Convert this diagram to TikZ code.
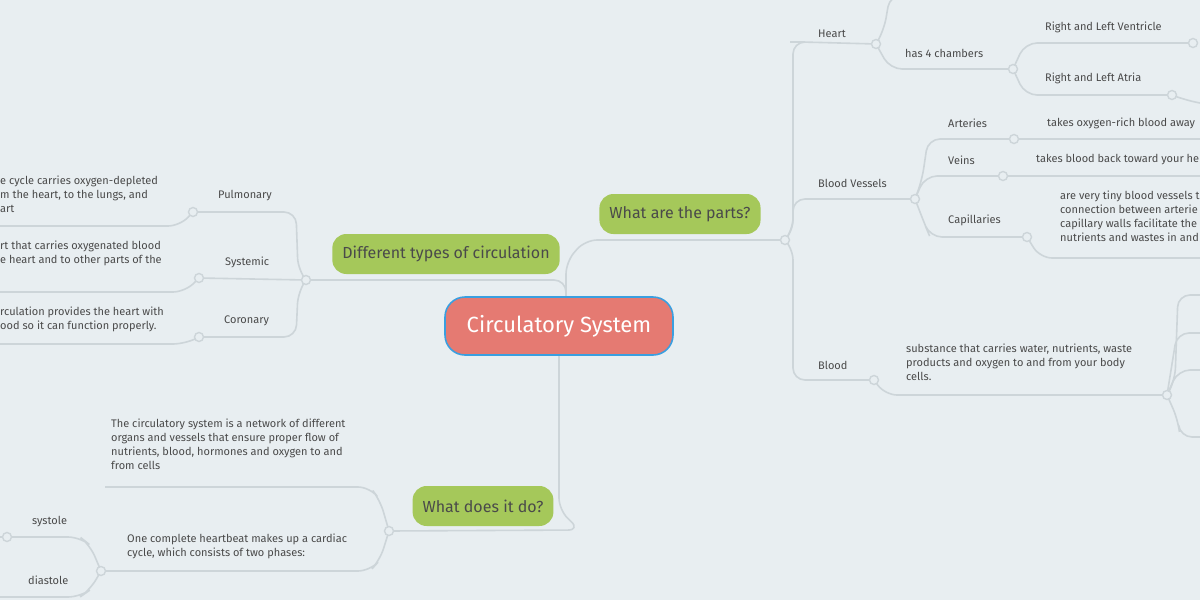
\documentclass[tikz,border=0pt]{standalone}
\usepackage{fontspec}
\setmainfont{Fira Sans}
\definecolor{bg}{HTML}{E8EEF1}
\definecolor{ln}{HTML}{CDD5D9}
\definecolor{tx}{HTML}{4A4A4A}
\definecolor{rootf}{HTML}{E57A72}
\definecolor{rootb}{HTML}{3A9FE0}
\definecolor{grn}{HTML}{A5C85A}
\begin{document}
\begin{tikzpicture}[x=1pt,y=-1pt,
  conn/.style={draw=ln,line width=1.6pt,rounded corners=12pt},
  knob/.style={circle,draw=ln,line width=1.4pt,fill=bg,minimum size=9pt,inner sep=0pt},
  lbl/.style={text=tx,font=\fontsize{11}{14}\selectfont,inner sep=0pt,anchor=west},
  para/.style={lbl,align=left,anchor=north west},
  pill/.style={rounded corners=14pt,fill=grn,text=tx,font=\fontsize{16}{18}\selectfont,minimum height=40pt,inner xsep=10pt}]
\fill[bg] (0,0) rectangle (1200,600);
\useasboundingbox (0,0) rectangle (1200,600);
\clip (0,0) rectangle (1200,600);
% knobs (coordinates)
\coordinate (kp) at (785,240);
\coordinate (kd) at (306,280);
\coordinate (kw) at (389,531);
\coordinate (kh) at (876,44);
\coordinate (kc) at (1013,69);
\coordinate (kv) at (1193,43);
\coordinate (ka) at (1172,95);
\coordinate (kbv) at (915,199);
\coordinate (kar) at (1014,139);
\coordinate (kve) at (1003,176);
\coordinate (kca) at (1027,237);
\coordinate (kb) at (874,380);
\coordinate (kbs) at (1167,395);
\coordinate (kpu) at (193,212);
\coordinate (ksy) at (199,278);
\coordinate (kco) at (199,337);
\coordinate (kcy) at (101,571);
\coordinate (ksys) at (7,537);
% main connectors
\draw[conn] (566,300) -- (566,262) -- (585,240) -- (kp);
\draw[conn] (566,300) -- (566,280) -- (kd);
\draw[conn] (559,350) -- (559,510) -- (580,530) -- (kw);
% right tree
\draw[conn] (kp) -- (793,232) -- (793,42) -- (802,42) -- (kh);
\draw[conn] (kp) -- (793,248) -- (793,380) -- (kb);
\draw[conn] (kp) -- (793,230) -- (793,199) -- (kbv);
\draw[conn] (kh) -- (884,30) -- (890,-5) -- (920,-5);
\draw[conn] (kh) -- (890,69) -- (kc);
\draw[conn] (kc) -- (1025,43) -- (kv);
\draw[conn] (kc) -- (1025,95) -- (ka);
\draw[conn] (ka) -- (1185,100) -- (1200,103);
\draw[conn] (kbv) -- (922,180) -- (928,139) -- (kar);
\draw[conn] (kar) -- (1205,139);
\draw[conn] (kbv) -- (925,176) -- (kve);
\draw[conn] (kve) -- (1205,176);
\draw[conn] (kbv) -- (925,225) -- (930,237) -- (kca);
\draw[conn] (kca) -- (1040,258) -- (1205,258);
\draw[conn] (kb) -- (885,395) -- (kbs);
\draw[conn] (kbs) -- (1175,380) -- (1178,295) -- (1205,295);
\draw[conn] (kbs) -- (1177,333) -- (1205,333);
\draw[conn] (kbs) -- (1178,370) -- (1205,370);
\draw[conn] (kbs) -- (1178,420) -- (1180,437) -- (1205,437);
% left tree
\draw[conn] (kd) -- (298,270) -- (296,212) -- (kpu);
\draw[conn] (kd) -- (ksy);
\draw[conn] (kd) -- (298,292) -- (296,337) -- (kco);
\draw[conn] (kpu) -- (180,226) -- (-5,226);
\draw[conn] (ksy) -- (185,292) -- (-5,292);
\draw[conn] (kco) -- (185,344) -- (-5,344);
% does
\draw[conn] (kw) -- (380,500) -- (370,487) -- (105,487);
\draw[conn] (kw) -- (380,560) -- (370,571) -- (kcy);
\draw[conn] (kcy) -- (90,545) -- (80,537) -- (ksys);
\draw[conn] (kcy) -- (90,590) -- (80,597) -- (-5,597);
\draw[conn] (ksys) -- (-5,537);
% knob circles
\foreach \k in {kp,kd,kw,kh,kc,kv,ka,kbv,kar,kve,kca,kb,kbs,kpu,ksy,kco,kcy,ksys}
  \node[knob] at (\k) {};
% main nodes
\node[rounded corners=20pt,fill=rootf,draw=rootb,line width=1.6pt,text=white,font=\fontsize{22}{24}\selectfont,minimum width=228pt,minimum height=58pt] (root) at (559,326) {Circulatory System};
\node[pill] (parts) at (680,214) {What are the parts?};
\node[pill] (diff) at (446,254) {Different types of circulation};
\node[pill] (does) at (483,506) {What does it do?};
% right labels
\node[lbl] (heart) at (818,34) {Heart};
\node[lbl] (cham) at (905,53) {has 4 chambers};
\node[lbl] (vent) at (1045,27) {Right and Left Ventricle};
\node[lbl] (atr) at (1045,78) {Right and Left Atria};
\node[lbl] (bv) at (818,183) {Blood Vessels};
\node[lbl] (art) at (948,123) {Arteries};
\node[lbl] (artt) at (1047,123) {takes oxygen-rich blood away};
\node[lbl] (vei) at (948,160) {Veins};
\node[lbl] (veit) at (1036,160) {takes blood back toward your he};
\node[lbl] (cap) at (948,220) {Capillaries};
\node[para] (capt) at (1060,191) {are very tiny blood vessels t\\connection between arterie\\capillary walls facilitate the\\nutrients and wastes in and};
\node[lbl] (blood) at (818,365) {Blood};
\node[para] (bloodt) at (906,344) {substance that carries water, nutrients, waste\\products and oxygen to and from your body\\cells.};
% left labels
\node[lbl] (pul) at (218,196) {Pulmonary};
\node[lbl] (sys) at (225,262) {Systemic};
\node[lbl] (cor) at (224,321) {Coronary};
\node[para] (pult) at (0,176) {e cycle carries oxygen-depleted\\m the heart, to the lungs, and\\art};
\node[para] (syst) at (0,241) {rt that carries oxygenated blood\\e heart and to other parts of the};
\node[para] (cort) at (0,307) {rculation provides the heart with\\ood so it can function properly.};
\node[para] (dot) at (111,419) {The circulatory system is a network of different\\organs and vessels that ensure proper flow of\\nutrients, blood, hormones and oxygen to and\\from cells};
\node[para] (cyc) at (127,534) {One complete heartbeat makes up a cardiac\\cycle, which consists of two phases:};
\node[lbl] (systole) at (32,522) {systole};
\node[lbl] (diast) at (28,580) {diastole};
\end{tikzpicture}
\end{document}
